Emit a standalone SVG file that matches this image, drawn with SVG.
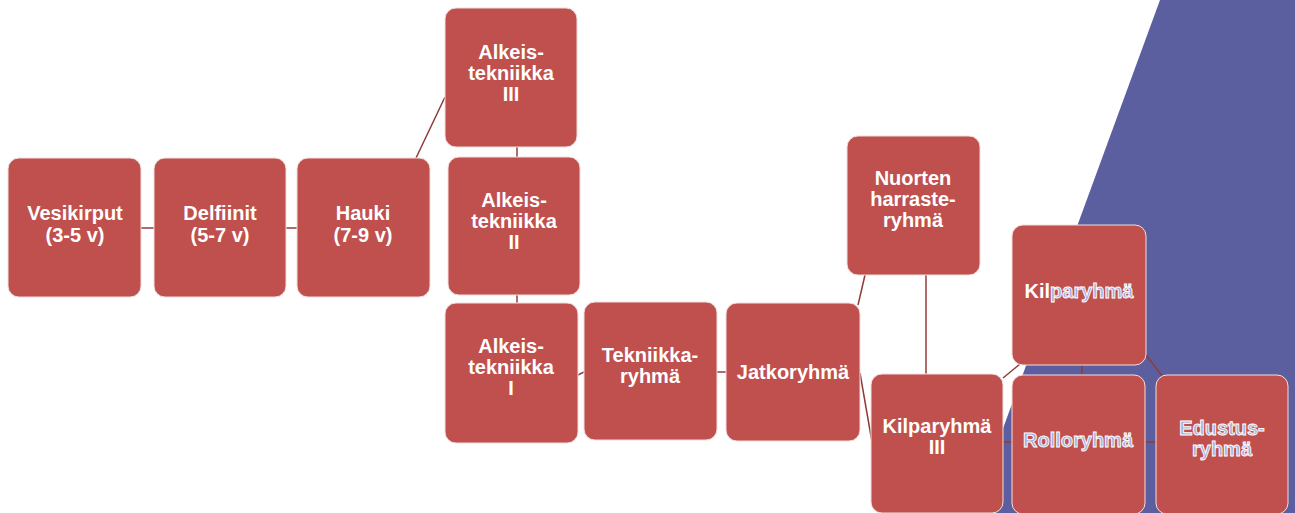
<svg xmlns="http://www.w3.org/2000/svg" width="1295" height="513" viewBox="0 0 1295 513">
<style>
.n{fill:#c0504d;stroke:#f3dedd;stroke-width:1}
.t{font-family:"Liberation Sans",Arial,sans-serif;font-size:20px;font-weight:bold;fill:#ffffff;text-anchor:middle}
.b{fill:#a7abd8;stroke:#ffffff;stroke-width:0.9}
.c{stroke:#8f3b39;stroke-width:1.5;fill:none}
</style>
<rect width="1295" height="513" fill="#ffffff"/>
<polygon points="1160,0 1295,0 1295,513 972,513" fill="#5b5f9f"/>
<g id="connectors">
<line class="c" x1="141" y1="228" x2="154" y2="228"/>
<line class="c" x1="286" y1="228" x2="297" y2="228"/>
<line class="c" x1="416" y1="158" x2="445" y2="97"/>
<line class="c" x1="517" y1="147" x2="517" y2="157"/>
<line class="c" x1="517" y1="295" x2="517" y2="303"/>
<line class="c" x1="578" y1="375" x2="584" y2="372"/>
<line class="c" x1="717" y1="372" x2="726" y2="372"/>
<line class="c" x1="858" y1="305" x2="865" y2="275"/>
<line class="c" x1="926" y1="275" x2="926" y2="374"/>
<line class="c" x1="860" y1="373" x2="872" y2="442"/>
<line class="c" x1="1003" y1="378" x2="1020" y2="364"/>
<line class="c" x1="1082" y1="365" x2="1082" y2="375"/>
<line class="c" x1="1146" y1="355" x2="1163" y2="377"/>
<line class="c" x1="1003" y1="442" x2="1012" y2="442"/>
<line class="c" x1="1145" y1="442" x2="1156" y2="442"/>
</g>
<g id="vesikirput"><rect class="n" x="8" y="158" width="133" height="139" rx="11"/><text class="t" x="75" y="220">Vesikirput</text><text class="t" x="75" y="242">(3-5 v)</text></g>
<g id="delfiinit"><rect class="n" x="154" y="158" width="132" height="139" rx="11"/><text class="t" x="220" y="220">Delfiinit</text><text class="t" x="220" y="242">(5-7 v)</text></g>
<g id="hauki"><rect class="n" x="297" y="158" width="133" height="139" rx="11"/><text class="t" x="363" y="220">Hauki</text><text class="t" x="363" y="242">(7-9 v)</text></g>
<g id="alkeis3"><rect class="n" x="445" y="8" width="132" height="139" rx="11"/><text class="t" x="511" y="59">Alkeis-</text><text class="t" x="511" y="80">tekniikka</text><text class="t" x="511" y="101">III</text></g>
<g id="alkeis2"><rect class="n" x="448" y="157" width="132" height="138" rx="11"/><text class="t" x="514" y="207">Alkeis-</text><text class="t" x="514" y="228">tekniikka</text><text class="t" x="514" y="249">II</text></g>
<g id="alkeis1"><rect class="n" x="445" y="303" width="133" height="140" rx="11"/><text class="t" x="511" y="353">Alkeis-</text><text class="t" x="511" y="374">tekniikka</text><text class="t" x="511" y="395">I</text></g>
<g id="tekniikka"><rect class="n" x="584" y="302" width="133" height="138" rx="11"/><text class="t" x="650" y="362">Tekniikka-</text><text class="t" x="650" y="383">ryhmä</text></g>
<g id="jatko"><rect class="n" x="726" y="303" width="134" height="138" rx="11"/><text class="t" x="793" y="379">Jatkoryhmä</text></g>
<g id="nuorten"><rect class="n" x="847" y="136" width="133" height="139" rx="11"/><text class="t" x="913" y="185">Nuorten</text><text class="t" x="913" y="206">harraste-</text><text class="t" x="913" y="227">ryhmä</text></g>
<g id="kilpa3"><rect class="n" x="871" y="374" width="132" height="139" rx="11"/><text class="t" x="937" y="433">Kilparyhmä</text><text class="t" x="937" y="454">III</text></g>
<g id="kilpa"><rect class="n" x="1012" y="225" width="134" height="140" rx="11"/><text class="t" x="1079" y="298">Kil<tspan class="b">paryhmä</tspan></text></g>
<g id="rollo"><rect class="n" x="1012" y="375" width="133" height="139" rx="11"/><text class="t b" x="1078" y="447">Rolloryhmä</text></g>
<g id="edustus"><rect class="n" x="1156" y="375" width="132" height="139" rx="11"/><text class="t b" x="1222" y="435">Edustus-</text><text class="t b" x="1222" y="456">ryhmä</text></g>
</svg>
